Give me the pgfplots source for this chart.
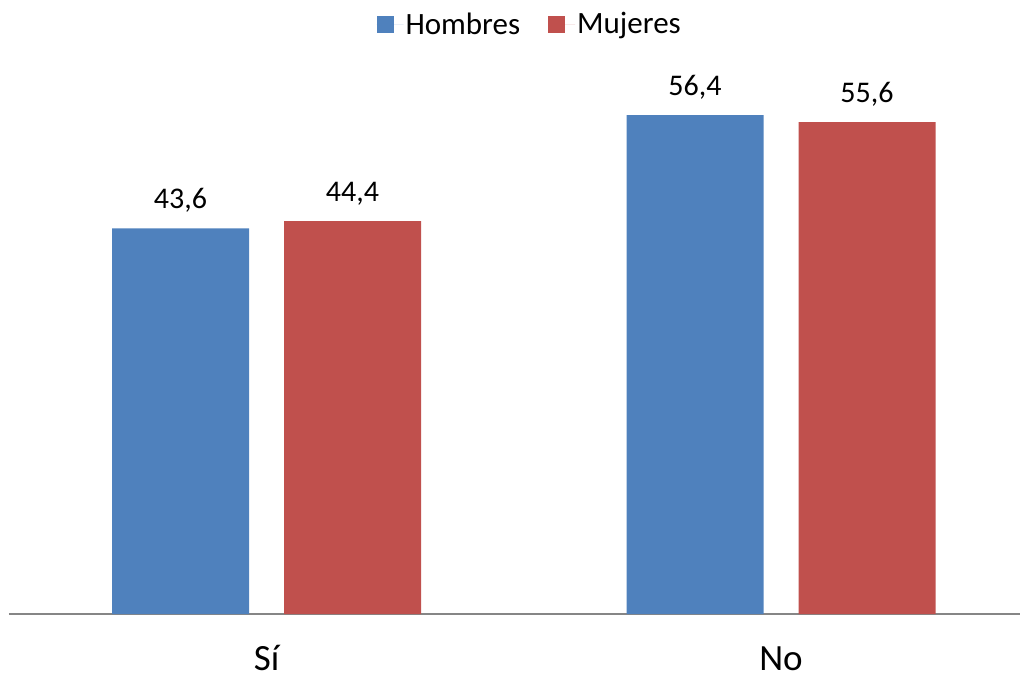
\documentclass[border=0pt]{standalone}
\usepackage{pgfplots}
\pgfplotsset{compat=1.18}
\usepackage{fontspec}
\setmainfont{Carlito}
\definecolor{cblue}{HTML}{4F81BD}
\definecolor{cred}{HTML}{C0504D}
\definecolor{cgray}{HTML}{868686}
\begin{document}
\begin{tikzpicture}
\begin{axis}[
  at={(0,0)}, anchor=south west,
  scale only axis,
  width=505.5pt, height=265.4pt,
  ybar,
  bar width=68.5pt,
  xmin=-0.5005, xmax=1.4645,
  ymin=0, ymax=60,
  hide y axis,
  axis x line*=bottom,
  x axis line style={draw=cgray, line width=1pt, -},
  xtick={0,1},
  xticklabels={Sí,No},
  major tick length=0pt,
  xticklabel style={font=\fontsize{18.5pt}{22pt}\selectfont, anchor=base, inner sep=0pt, yshift=-28pt},
  clip=false,
  point meta=explicit symbolic,
  nodes near coords,
  nodes near coords style={font=\fontsize{15pt}{18pt}\selectfont, anchor=base, inner sep=0pt, yshift=10pt, text=black},
  legend columns=2,
  legend style={at={(0.515,1.11)}, anchor=center, draw=none, fill=none,
    font=\fontsize{15.5pt}{18pt}\selectfont,
    /tikz/every even column/.append style={column sep=13pt},
    nodes={inner sep=1pt}},
  legend image code/.code={\path (0pt,0pt) -- (13.5pt,0pt);\fill[#1] (0pt,-4.25pt) rectangle (8.5pt,4.25pt);},
]
\addplot[fill=cblue, draw=none, bar shift=-43pt] coordinates {(0,43.6) [43,6] (1,56.4) [56,4]};
\addplot[fill=cred, draw=none, bar shift=43pt] coordinates {(0,44.4) [44,4] (1,55.6) [55,6]};
\legend{Hombres, Mujeres}
\end{axis}
\pgfresetboundingbox
\path[use as bounding box] (-4.5pt,-32pt) rectangle (505.5pt,307pt);
\end{tikzpicture}
\end{document}
